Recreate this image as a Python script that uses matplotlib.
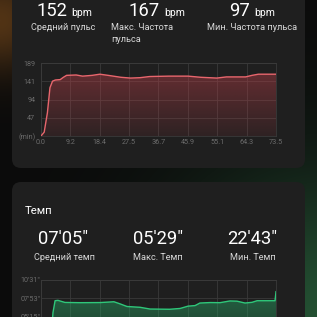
import numpy as np
import matplotlib.pyplot as plt
from matplotlib.patches import FancyBboxPatch

plt.rcParams['font.family'] = ['Roboto', 'DejaVu Sans']

# heart rate card
hr_values = ['152', '167', '97']
hr_labels = ['Средний пульс', 'Макс. Частота\nпульса', 'Мин. Частота пульса']
hr_ticks = [0, 47.25, 94.5, 141.75, 189]
hr_ticklabels = ['(min)', '47', '94', '141', '189']
time_ticks = [0, 9.2, 18.4, 27.5, 36.7, 45.9, 55.1, 64.3, 73.5]
hr_t = [0, 1.0, 2.0, 2.8, 3.6, 4.5, 6.0, 7.0, 8.0, 11, 13, 16, 18.4, 21, 25,
        28, 31, 34, 40, 46, 50, 55, 58, 61, 64, 66, 68, 73.5]
hr_bpm = [0, 10, 60, 125, 142, 145, 146, 152, 157, 158, 155, 157, 160, 157, 152,
          150, 151, 154, 155, 155, 152, 150, 153, 153, 153, 157, 160, 160]

# pace card
pace_values = ["07'05\"", "05'29\"", "22'43\""]
pace_labels = ['Средний темп', 'Макс. Темп', 'Мин. Темп']
pace_ticks = [0, 157.75, 315.5, 473.25, 631]
pace_ticklabels = ['', "02'37\"", "05'15\"", "07'53\"", "10'31\""]
pace_t = [2.8, 3.75, 4.4, 5.3, 7.5, 12.2, 18.5, 21, 22.8, 24.7, 26.9, 31, 34.1,
          40.3, 43.5, 46, 48.2, 49.7, 52.9, 56, 59.1, 61.3, 63.8, 66, 67.6, 73.2, 73.5]
pace_s = [0, 350, 452, 455, 437, 435, 436, 440, 443, 425, 402, 395, 380,
          378, 385, 405, 410, 432, 436, 435, 450, 448, 432, 438, 452, 452, 530]

W = H = 317
fig = plt.figure(figsize=(3.17, 3.17), dpi=100)

# background with soft glows
yy, xx = np.mgrid[0:H, 0:W]
img = np.zeros((H, W, 3)) + np.array([11, 11, 11]) / 255
glow1 = np.exp(-(((xx - 0) ** 2) + ((yy - 20) ** 2)) / (2 * 35 ** 2))
glow2 = np.exp(-(((xx - 330) ** 2) + ((yy - 330) ** 2)) / (2 * 110 ** 2))
img += glow1[..., None] * np.array([70, 40, 10]) / 255
img += glow2[..., None] * np.array([25, 70, 40]) / 255
img = np.clip(img, 0, 1)

bg = fig.add_axes([0, 0, 1, 1])
bg.imshow(img, extent=(0, W, H, 0), aspect='auto')
bg.set_xlim(0, W)
bg.set_ylim(H, 0)
bg.axis('off')

card_col = '#1f1f1f'
bg.add_patch(FancyBboxPatch((12, -40), 293, 208, boxstyle='round,pad=0,rounding_size=9',
                            fc=card_col, ec='none'))
bg.add_patch(FancyBboxPatch((12, 182), 293, 180, boxstyle='round,pad=0,rounding_size=9',
                            fc=card_col, ec='none'))

# heart rate header
num_right = [67, 160, 250]
for v, xr in zip(hr_values, num_right):
    bg.text(xr, 16, v, color='white', fontsize=13.2, ha='right', va='baseline')
    bg.text(xr + 4, 16, 'bpm', color='white', fontsize=7.5, ha='left', va='baseline')
bg.text(63.5, 30, hr_labels[0], color='#d8d8d8', fontsize=6.6, ha='center', va='baseline')
bg.text(111, 23.5, hr_labels[1], color='#d8d8d8', fontsize=6.6, ha='left', va='top',
        linespacing=1.3)
bg.text(252.5, 30, hr_labels[2], color='#d8d8d8', fontsize=6.6, ha='center', va='baseline')

# pace header
bg.text(25, 213.5, 'Темп', color='white', fontsize=8.2, ha='left', va='baseline')
for v, xc in zip(pace_values, [63.5, 158.5, 252.5]):
    bg.text(xc, 244, v, color='white', fontsize=13.2, ha='center', va='baseline')
for lab, xc in zip(pace_labels, [64, 158, 252.5]):
    bg.text(xc, 259.5, lab, color='#d8d8d8', fontsize=6.6, ha='center', va='baseline')


def grad_fill(ax, x, y, color, a_top, a_bot):
    poly = ax.fill_between(x, y, 0, color='none', lw=0)
    ytop = max(y)
    rgba = np.zeros((256, 1, 4))
    rgba[..., :3] = plt.matplotlib.colors.to_rgb(color)
    rgba[:, 0, 3] = np.linspace(a_top, a_bot, 256)
    im = ax.imshow(rgba, extent=(min(x), max(x), 0, ytop), origin='upper',
                   aspect='auto', zorder=1)
    im.set_clip_path(poly.get_paths()[0], ax.transData)


def style(ax, yticks, ylabels, ymax, pad):
    ax.set_facecolor('none')
    ax.set_xlim(0, 73.5)
    ax.set_ylim(0, ymax)
    ax.set_xticks(time_ticks)
    ax.set_xticklabels([f'{t:.1f}' for t in time_ticks])
    ax.set_yticks(yticks)
    ax.set_yticklabels(ylabels)
    ax.grid(True, color='#3a3a3a', lw=0.6)
    for s in ax.spines.values():
        s.set_color('#3a3a3a')
        s.set_linewidth(0.6)
    ax.tick_params(length=0, labelsize=5.2, colors='#6c6c6c', pad=2)
    ax.tick_params(axis='y', pad=pad)
    ax.set_axisbelow(True)


ax1 = fig.add_axes([41 / W, 1 - 136 / H, 235 / W, 73 / H])
style(ax1, hr_ticks, hr_ticklabels, 189, 4)
grad_fill(ax1, hr_t, hr_bpm, '#c0404a', 0.42, 0.1)
ax1.plot(hr_t, hr_bpm, color='#e8666d', lw=1.0, zorder=3)

ax2 = fig.add_axes([41 / W, 1 - 353 / H, 235 / W, 73 / H])
style(ax2, pace_ticks, pace_ticklabels, 631, 0.5)
ax2.tick_params(axis='x', labelbottom=False)
grad_fill(ax2, pace_t, pace_s, '#27a866', 0.5, 0.15)
ax2.plot(pace_t, pace_s, color='#2fc77a', lw=1.0, zorder=3)

fig.savefig('out.png', dpi=100)
